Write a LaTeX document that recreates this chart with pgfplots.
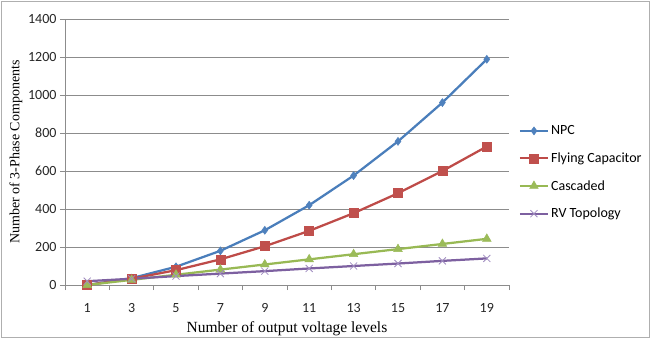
\documentclass[border=0pt]{standalone}
\usepackage{pgfplots}
\pgfplotsset{compat=1.18}
\usepackage{fontspec}
\setmainfont{Carlito}
\newfontfamily\timesf{Liberation Serif}
\definecolor{npc}{HTML}{4A7EBB}
\definecolor{npcm}{HTML}{4F81BD}
\definecolor{fc}{HTML}{BE4B48}
\definecolor{fcm}{HTML}{C0504D}
\definecolor{cas}{HTML}{98B954}
\definecolor{casm}{HTML}{9BBB59}
\definecolor{rv}{HTML}{7D60A0}
\definecolor{rvm}{HTML}{A08CC0}
\definecolor{gridc}{HTML}{8C8C8C}
\begin{document}
\begin{tikzpicture}
\useasboundingbox (-65bp,-55bp) rectangle (586bp,285bp);
\draw[color=gridc!70, line width=0.8bp] (-63.5bp,-52.5bp) rectangle (584bp,283.5bp);
\begin{axis}[
  scale only axis,
  width=444bp, height=266bp,
  xmin=-0.5, xmax=9.5,
  ymin=0, ymax=1400,
  ytick={0,200,...,1400},
  xtick={-0.5,0.5,...,9.5},
  x tick label as interval,
  xticklabels={1,3,5,7,9,11,13,15,17,19},
  axis x line*=bottom, axis y line*=left,
  axis line style={gridc, line width=0.8bp, -},
  tick style={gridc, line width=0.8bp},
  tick align=outside,
  major tick length=5bp,
  ymajorgrids,
  grid style={gridc, line width=0.8bp},
  /pgf/number format/assume math mode=true,
  /pgf/number format/1000 sep={},
  tick label style={font=\fontsize{14bp}{16bp}\selectfont, text=black!85},
  xticklabel style={yshift=-10bp},
  xlabel={\timesf\fontsize{15.5bp}{17bp}\selectfont Number of output voltage levels},
  ylabel={\timesf\fontsize{14bp}{16bp}\selectfont Number of 3-Phase Components},
  xlabel style={yshift=-2bp},
  ylabel style={yshift=-1bp},
  legend cell align=left,
  legend style={at={(1.015,0.615)}, anchor=north west, draw=none, fill=none,
    font=\fontsize{14bp}{16bp}\selectfont, row sep=12.5bp},
  legend image code/.code={
    \draw[mark repeat=2,mark phase=2,#1] plot coordinates {(0bp,0bp) (14bp,0bp) (28bp,0bp)};
  },
]
\addplot[npc, line width=2.25bp, mark=diamond*, mark size=4bp, mark options={fill=npcm, draw=npcm, line width=0.5bp}]
  coordinates {(0,0) (1,36) (2,96) (3,180) (4,288) (5,420) (6,576) (7,756) (8,960) (9,1188)};
\addlegendentry{NPC}
\addplot[fc, line width=2.25bp, mark=square*, mark size=4.5bp, mark options={fill=fcm, draw=fcm, line width=0.5bp}]
  coordinates {(0,0) (1,33) (2,78) (3,135) (4,204) (5,285) (6,378) (7,483) (8,600) (9,729)};
\addlegendentry{Flying Capacitor}
\addplot[cas, line width=2.25bp, mark=triangle*, mark size=5bp, mark options={fill=casm, draw=casm, line width=0.5bp}]
  coordinates {(0,0) (1,27) (2,54) (3,81) (4,108) (5,135) (6,162) (7,189) (8,216) (9,243)};
\addlegendentry{Cascaded}
\addplot[rv, line width=2.25bp, mark=x, mark size=5bp, mark options={draw=rvm, line width=0.8bp}]
  coordinates {(0,20) (1,33) (2,47) (3,60) (4,73) (5,87) (6,100) (7,113) (8,127) (9,140)};
\addlegendentry{RV Topology}
\end{axis}
\end{tikzpicture}
\end{document}
